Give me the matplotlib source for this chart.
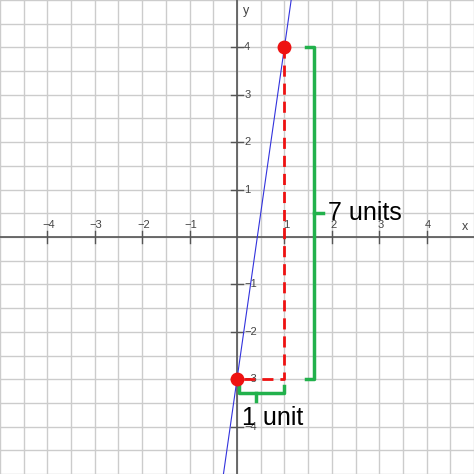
import matplotlib.pyplot as plt
import numpy as np

plt.rcParams['font.family'] = ['Liberation Sans', 'DejaVu Sans']

tick_vals = [-4, -3, -2, -1, 1, 2, 3, 4]
tick_labels = ['\u22124', '\u22123', '\u22122', '\u22121', '1', '2', '3', '4']
points_x = [0, 1]
points_y = [-3, 4]
slope = 7
intercept = -3

fig = plt.figure(figsize=(4.74, 4.74), dpi=100)
ax = fig.add_axes([0, 0, 1, 1])
ax.set_xlim(-5, 5)
ax.set_ylim(-5, 5)
ax.axis('off')

# grid every half unit
for g in np.arange(-5, 5.01, 0.5):
    ax.axvline(g, color='#cccccc', lw=1, zorder=0)
    ax.axhline(g, color='#cccccc', lw=1, zorder=0)
ax.axhline(0, color='#555555', lw=1.2, zorder=1)
ax.axvline(0, color='#555555', lw=1.2, zorder=1)

for v, lab in zip(tick_vals, tick_labels):
    ax.plot([v, v], [-0.12, 0.12], color='#555555', lw=1, zorder=1)
    ax.text(v + 0.03, 0.15, lab, fontsize=8, color='#444444', ha='center', va='bottom')
    ax.plot([-0.12, 0.12], [v, v], color='#555555', lw=1, zorder=1)
    ax.text(0.15, v, lab, fontsize=8, color='#444444', ha='left', va='center')
ax.text(4.75, 0.15, 'x', fontsize=9, color='#444444')
ax.text(0.12, 4.7, 'y', fontsize=9, color='#444444')

xs = np.array([-5, 5])
ax.plot(xs, slope * xs + intercept, color='#3333dd', lw=0.8, zorder=3)

green = '#22b14c'
# vertical bracket
bx = 1.63
ax.plot([1.45, bx, bx, 1.45], [4, 4, -3, -3], color=green, lw=2.5, zorder=3)
ax.plot([bx, 1.82], [0.5, 0.5], color=green, lw=2.5, zorder=3)
# horizontal bracket
by = -3.3
ax.plot([0.05, 0.05, 1.0, 1.0], [-3.15, by, by, -3.15], color=green, lw=2.5, zorder=3)
ax.plot([0.4, 0.4], [by, -3.45], color=green, lw=2.5, zorder=3)

ax.plot([1, 1, 0], [4, -3, -3], color='#ee1111', lw=2, ls=(0, (4, 2.5)), zorder=4)
ax.plot(points_x, points_y, 'o', color='#ee1111', ms=9, zorder=5)

ax.text(1.93, 0.5, '7 units', fontsize=18, ha='left', va='center', zorder=6)
ax.text(0.1, -3.82, '1 unit', fontsize=18, ha='left', va='center', zorder=6)

fig.savefig('out.png', dpi=100)
